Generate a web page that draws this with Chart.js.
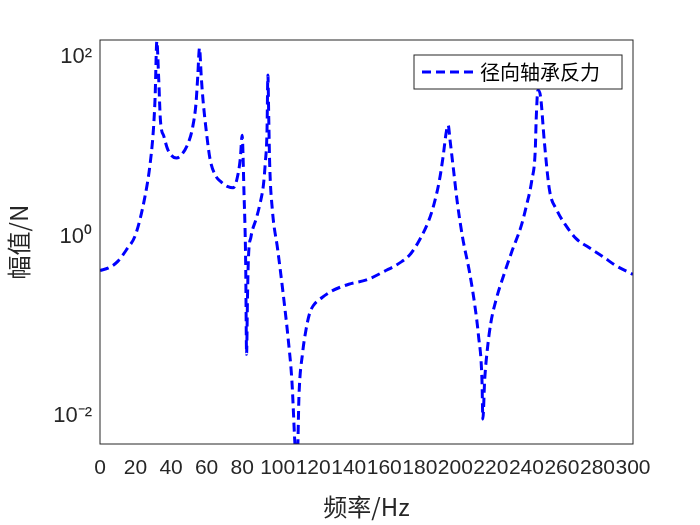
<!DOCTYPE html>
<html><head><meta charset="utf-8">
<script src="https://cdn.jsdelivr.net/npm/chart.js@4/dist/chart.umd.min.js"></script>
<style>body{margin:0;background:#fff}#w{width:700px;height:525px}</style>
</head><body><div id="w"><canvas id="c"></canvas></div>
<script>
const freq=[0,5,10,15,20,25,28,30,31,32,33,34,36,38,40,43,46,50,52,54,55,56,57,58,60,62,65,68,72,75,77,79,80,81,82,82.5,83,83.5,85,88,90,92,93,94,94.5,95,95.5,97,100,103,106,108,110,111,112,114,116,118,120,125,130,140,150,160,170,175,180,185,188,191,193,195,196,197,199,201,204,208,211,213,215,215.5,216.5,218,220,223,227,232,237,240,243,245,245.5,246.5,248,250,253,257,262,268,275,283,290,300];
const amp=[0.42,0.45,0.53,0.72,1.05,2.6,6,15,35,150,60,20,13,9.5,8.1,7.5,8.2,11.5,16,30,60,126,60,33,14,7.2,4.8,4.1,3.6,3.5,4.3,7.5,13.5,3.3,0.5,0.049,0.2,0.55,1.0,1.6,2.3,3.8,6.5,15,63,20,6.5,2.0,0.72,0.24,0.07,0.025,0.004,0.003,0.017,0.05,0.093,0.14,0.17,0.21,0.245,0.295,0.33,0.41,0.53,0.65,0.93,1.5,2.3,4.2,7.5,15,17.4,12,5.5,2.5,1.0,0.4,0.17,0.08,0.025,0.0093,0.025,0.055,0.11,0.2,0.36,0.7,1.3,2.2,4.2,9.3,20,43,36,12,3.3,2.0,1.35,0.95,0.76,0.6,0.48,0.38,0.32,0.275];
const xTicks=[0,20,40,60,80,100,120,140,160,180,200,220,240,260,280,300];
const yTickLabels={"0.01":"10⁻²","1":"10⁰","100":"10²"};
const legendLabel="径向轴承反力";
const xTitle="频率/Hz", yTitle="幅值/N";
const F="'Liberation Sans','Noto Sans CJK SC',sans-serif";
const frame={id:'frame',afterDraw(ch){const {ctx,chartArea:a}=ch;ctx.save();ctx.strokeStyle='#262626';ctx.lineWidth=1;ctx.strokeRect(a.left,a.top,a.right-a.left,a.bottom-a.top);
const lx=414,ly=55,lw=208,lh=34;ctx.fillStyle='#fff';ctx.fillRect(lx,ly,lw,lh);ctx.strokeRect(lx,ly,lw,lh);
ctx.strokeStyle='#0000ff';ctx.lineWidth=3;ctx.setLineDash([9,5]);ctx.beginPath();ctx.moveTo(lx+8,ly+lh/2);ctx.lineTo(lx+62,ly+lh/2);ctx.stroke();ctx.setLineDash([]);
ctx.fillStyle='#000';ctx.font="20px 'Noto Sans CJK SC'";ctx.textBaseline='middle';ctx.fillText(legendLabel,lx+66,ly+lh/2);ctx.restore();}};
new Chart(document.getElementById('c'),{type:'line',
data:{datasets:[{data:freq.map((f,i)=>({x:f,y:amp[i]})),borderColor:'#0000ff',borderWidth:3,borderDash:[9,5],pointRadius:0,tension:0.3,cubicInterpolationMode:'monotone',fill:false}]},
options:{responsive:true,maintainAspectRatio:false,animation:false,
layout:{padding:{top:40,right:67,left:0,bottom:0}},
plugins:{legend:{display:false},tooltip:{enabled:false}},
scales:{
x:{type:'linear',min:0,max:300,afterBuildTicks(s){s.ticks=xTicks.map(v=>({value:v}));},
ticks:{color:'#262626',font:{size:21,family:F},maxRotation:0,autoSkip:false,padding:12},
grid:{display:false,drawTicks:false},border:{display:false},
title:{display:true,text:xTitle,color:'#262626',font:{size:24,family:"'Noto Sans CJK SC'"},padding:{top:0}},
afterFit(s){s.height=81;}},
y:{type:'logarithmic',min:0.0049,max:155,afterBuildTicks(s){s.ticks=[0.01,1,100].map(v=>({value:v}));},
ticks:{color:'#262626',font:{size:22,family:F},callback:v=>yTickLabels[String(v)]||'',padding:8},
grid:{display:false,drawTicks:false},border:{display:false},
title:{display:true,text:yTitle,color:'#262626',font:{size:24,family:"'Noto Sans CJK SC'"},padding:{bottom:0}},
afterFit(s){s.width=100;}}}},
plugins:[frame]});
</script></body></html>
